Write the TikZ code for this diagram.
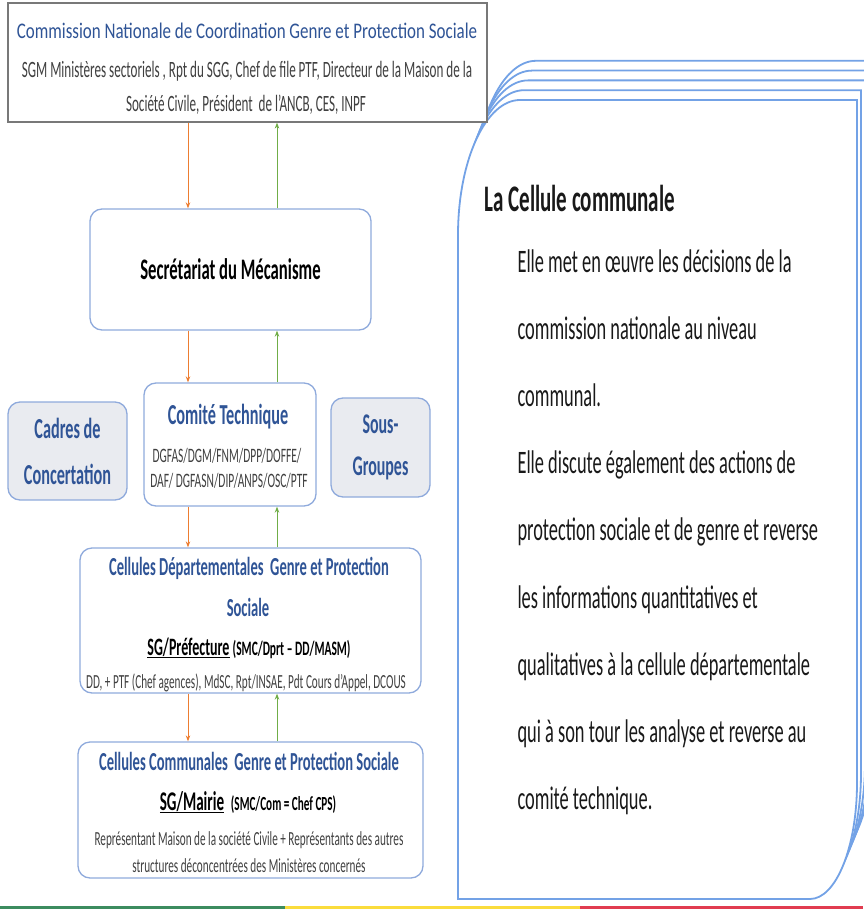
\documentclass[tikz,border=0pt]{standalone}
\usepackage{fontspec}
\setmainfont{Carlito}[FakeStretch=0.56]
\newfontfamily\headfont{Carlito}[FakeStretch=0.76]
\usepackage{xcolor}
\usepackage{tikz}
\usetikzlibrary{arrows.meta}

\definecolor{hblue}{RGB}{47,84,150}
\definecolor{boxblue}{RGB}{143,170,220}
\definecolor{stackblue}{RGB}{115,162,230}
\definecolor{greyfill}{RGB}{233,235,240}
\definecolor{linegrey}{RGB}{120,120,120}
\definecolor{darkgrey}{RGB}{64,64,64}
\definecolor{arrorange}{RGB}{237,125,49}
\definecolor{arrgreen}{RGB}{112,173,71}
\definecolor{stripegreen}{RGB}{60,140,95}
\definecolor{stripeyellow}{RGB}{250,220,60}
\definecolor{stripered}{RGB}{225,60,80}

\begin{document}
\begin{tikzpicture}[x=1pt, y=-1pt,
  frame/.style={rounded corners=12pt, draw=boxblue, line width=1.3pt},
  greybox/.style={frame, fill=greyfill, text=hblue, align=center},
  stack/.style={draw=stackblue, line width=1.8pt, fill=white},
  down/.style={draw=arrorange, line width=1pt, -{Stealth[length=6pt,width=4.5pt]}},
  up/.style={draw=arrgreen, line width=1pt, -{Stealth[length=6pt,width=4.5pt]}},
  head/.style={anchor=base, text=hblue, font=\bfseries\fontsize{26}{26}\selectfont},
  note/.style={anchor=base, text=darkgrey, font=\fontsize{20}{20}\selectfont},
  body/.style={anchor=base west, text=black!90, font=\fontsize{32.8}{32.8}\selectfont}]
  \useasboundingbox (0,0) rectangle (863,909);

  % la cellule communale, stacked pages
  \foreach \k in {4,3,2,1,0}
  {
    \draw[stack, shift={(4*\k,-9.8*\k)}] (458,235) .. controls (458,160.5) and (485.8,100) .. (520,100)
      -- (857,100) -- (857,783) .. controls (857,847) and (836,899) .. (810,899) -- (458,899) -- cycle;
  }
  \node[body, font=\bfseries\fontsize{37.5}{37.5}\selectfont] (cell-t) at (481,212) {La Cellule communale};
  \foreach \t [count=\i] in {Elle met en œuvre les décisions de la, commission nationale au niveau,
    communal., Elle discute également des actions de, protection sociale et de genre et reverse,
    les informations quantitatives et, qualitatives à la cellule départementale,
    qui à son tour les analyse et reverse au, comité technique.}
  {
    \node[body] (cell-\i) at (514,{272+67.2*(\i-1)}) {\t};
  }

  % commission nationale
  \node[draw=linegrey, line width=1.2pt, fill=white, minimum width=479pt, minimum height=119pt] (comm) at (247.5,62.5) {};
  \node[anchor=base, text=hblue, font=\headfont\fontsize{22.3}{22.3}\selectfont] (comm-t) at (247,38.5)
    {Commission Nationale de Coordination Genre et Protection Sociale};
  \node[note, font=\fontsize{23.4}{23.4}\selectfont] (comm-a) at (247,78)
    {SGM Ministères sectoriels , Rpt du SGG, Chef de file PTF, Directeur de la Maison de la};
  \node[note, font=\fontsize{23.4}{23.4}\selectfont] (comm-b) at (246,111.5)
    {Société Civile, Président\ \ de l'ANCB, CES, INPF};

  % secretariat
  \node[frame, minimum width=281pt, minimum height=121pt, font=\bfseries\fontsize{29.8}{29.8}\selectfont] (secr) at (230.5,269.5)
    {Secrétariat du Mécanisme};

  % comite technique and side boxes
  \node[frame, minimum width=172pt, minimum height=123pt] (comite) at (230,444.5) {};
  \node[head, font=\bfseries\fontsize{29}{29}\selectfont] (comite-t) at (228,424) {Comité Technique};
  \node[note, font=\fontsize{20.5}{20.5}\selectfont] (comite-a) at (227,462) {DGFAS/DGM/FNM/DPP/DOFFE/};
  \node[note, font=\fontsize{20.5}{20.5}\selectfont] (comite-b) at (229,487) {DAF/ DGFASN/DIP/ANPS/OSC/PTF};
  \node[greybox, minimum width=119pt, minimum height=98pt, font=\bfseries\fontsize{29}{46}\selectfont] (cadres) at (67.5,451)
    {Cadres de\\Concertation};
  \node[greybox, minimum width=99pt, minimum height=99pt, font=\bfseries\fontsize{28.5}{42}\selectfont] (sous) at (380.5,447.5)
    {Sous-\\Groupes};

  % cellules departementales
  \node[frame, minimum width=341pt, minimum height=145pt] (dept) at (250.5,620.5) {};
  \node[head] (dept-t) at (249,575) {Cellules Départementales\ \ Genre et Protection};
  \node[head] (dept-s) at (248,616) {Sociale};
  \node[anchor=base, font=\bfseries\fontsize{25}{25}\selectfont] (dept-sg) at (249,655)
    {\underline{SG/Préfecture} {\fontsize{20.5}{20.5}\selectfont(SMC/Dprt – DD/MASM)}};
  \node[note] (dept-n) at (246,688) {DD, + PTF (Chef agences), MdSC, Rpt/INSAE, Pdt Cours d'Appel, DCOUS};

  % cellules communales
  \node[frame, minimum width=345pt, minimum height=136pt] (commune) at (250.5,810) {};
  \node[head] (commune-t) at (249,770) {Cellules Communales\ \ Genre et Protection Sociale};
  \node[anchor=base, font=\bfseries\fontsize{27}{27}\selectfont] (commune-sg) at (248,810)
    {\underline{SG/Mairie}\ \ {\fontsize{20}{20}\selectfont(SMC/Com = Chef CPS)}};
  \node[note] (commune-a) at (249,845) {Représentant Maison de la société Civile + Représentants des autres};
  \node[note] (commune-b) at (249,872) {structures déconcentrées\ des Ministères concernés};

  % liaisons
  \coordinate (dn) at (188,0);
  \coordinate (up) at (277,0);
  \foreach \a/\b in {comm/secr, secr/comite, comite/dept, dept/commune}
  {
    \draw[down] (\a.south -| dn) -- (\b.north -| dn);
    \draw[up] (\b.north -| up) -- (\a.south -| up);
  }

  % bande du bas
  \fill[stripegreen] (0,906) rectangle (285,909);
  \fill[stripeyellow] (285,906) rectangle (580,909);
  \fill[stripered] (580,906) rectangle (863,909);
\end{tikzpicture}
\end{document}
